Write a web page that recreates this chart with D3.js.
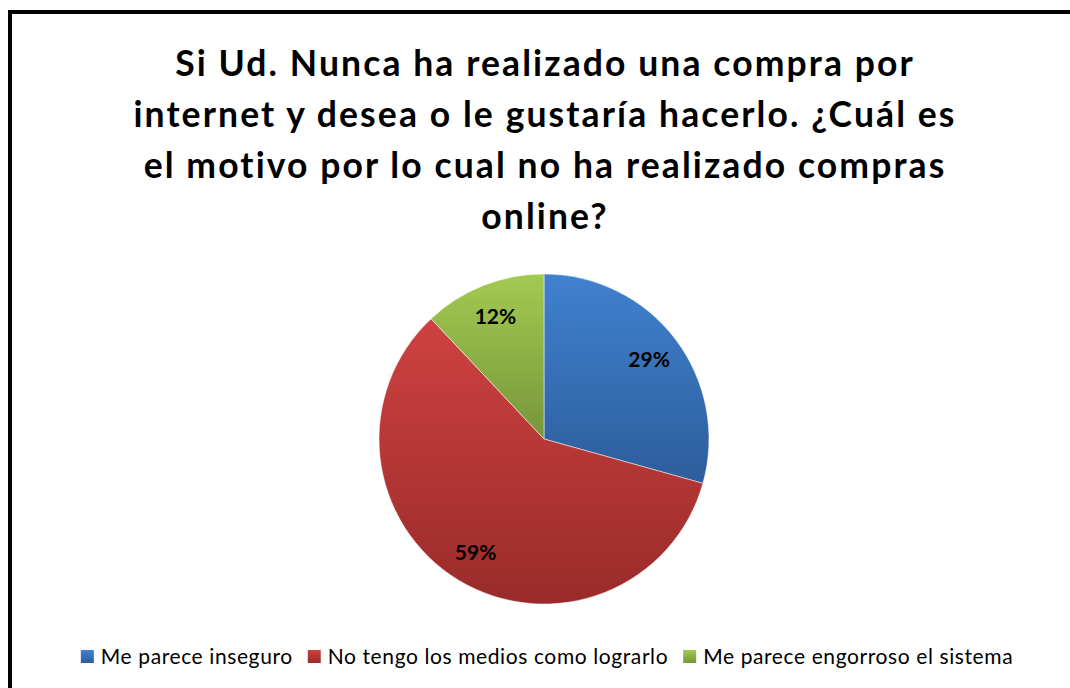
<!DOCTYPE html>
<html lang="es">
<head>
    <meta charset="utf-8">
    <title>Motivo por el cual no ha realizado compras online</title>
    <script type="text/javascript" src="https://cdn.jsdelivr.net/npm/d3@7"></script>
    <style type="text/css">
        body { margin: 0; background: #fff; }
        svg { display: block; font-family: Lato, "Open Sans", sans-serif; }
    </style>
</head>
<body>
    <script type="text/javascript">

			//Data
			var categories = ["Me parece inseguro", "No tengo los medios como lograrlo", "Me parece engorroso el sistema"];
			var values = [22, 44, 9];
			var pctLabels = ["29%", "59%", "12%"];
			var titleLines = ["Si Ud. Nunca ha realizado una compra por",
			                  "internet y desea o le gustaría hacerlo. ¿Cuál es",
			                  "el motivo por lo cual no ha realizado compras",
			                  "online?"];

			//Colors (top / bottom of each gradient)
			var topColors = ["#4081cf", "#ce4240", "#a2ca51"];
			var bottomColors = ["#2d5d9c", "#992b2a", "#77963a"];

			var w = 1070;
			var h = 688;
			var cx = 544, cy = 439, r = 165;

			var svg = d3.select("body")
						.append("svg")
						.attr("width", w)
						.attr("height", h);

			//Gradients
			var defs = svg.append("defs");
			var grads = defs.selectAll("linearGradient")
				.data(categories)
				.enter()
				.append("linearGradient")
				.attr("id", function(d, i) { return "g" + i; })
				.attr("x1", 0).attr("y1", 0).attr("x2", 0).attr("y2", 1);
			grads.append("stop").attr("offset", "0%").attr("stop-color", function(d, i) { return topColors[i]; });
			grads.append("stop").attr("offset", "100%").attr("stop-color", function(d, i) { return bottomColors[i]; });

			//Outer border
			svg.append("rect")
				.attr("x", 10)
				.attr("y", 12)
				.attr("width", w + 20)
				.attr("height", h + 20)
				.attr("fill", "none")
				.attr("stroke", "#000")
				.attr("stroke-width", 4);

			//Title
			svg.append("g")
				.selectAll("text")
				.data(titleLines)
				.enter()
				.append("text")
				.attr("x", 545)
				.attr("y", function(d, i) { return 76 + i * 51; })
				.attr("text-anchor", "middle")
				.style("font-size", "35.5px")
				.style("font-weight", "bold")
				.style("letter-spacing", "2.1px")
				.text(function(d) { return d; });

			//Pie
			var pie = d3.pie().sort(null);
			var arc = d3.arc().innerRadius(0).outerRadius(r);
			var labelArc = d3.arc().innerRadius(r * 0.8).outerRadius(r * 0.8);

			var g = svg.append("g").attr("transform", "translate(" + cx + "," + cy + ")");
			var arcs = pie(values);

			g.selectAll("path")
			 .data(arcs)
			 .enter()
			 .append("path")
			 .attr("d", arc)
			 .style("fill", function(d, i) { return "url(#g" + i + ")"; })
			 .style("stroke", "#fff")
			 .style("stroke-width", 0.5);

			g.selectAll("text")
			 .data(arcs)
			 .enter()
			 .append("text")
			 .attr("transform", function(d) { return "translate(" + labelArc.centroid(d) + ")"; })
			 .attr("text-anchor", "middle")
			 .attr("dy", "0.38em")
			 .style("font-size", "21px")
			 .style("font-weight", "bold")
			 .text(function(d, i) { return pctLabels[i]; });

			//Legend
			var legend = svg.append("g");
			var items = legend.selectAll("g")
				.data(categories)
				.enter()
				.append("g");
			items.append("rect")
				.attr("width", 13)
				.attr("height", 13)
				.attr("y", 650)
				.style("fill", function(d, i) { return "url(#g" + i + ")"; });
			items.append("text")
				.attr("x", 20)
				.attr("y", 664)
				.style("font-size", "21px")
				.style("letter-spacing", "0.6px")
				.text(function(d) { return d; });

			//Position legend items one after another, centred
			var x = 0, offsets = [];
			items.each(function() {
				offsets.push(x);
				x += 20 + d3.select(this).select("text").node().getComputedTextLength() + 15;
			});
			var total = x - 15;
			var start = 547 - total / 2;
			items.attr("transform", function(d, i) { return "translate(" + (start + offsets[i]) + ",0)"; });

    </script>
</body>
</html>
